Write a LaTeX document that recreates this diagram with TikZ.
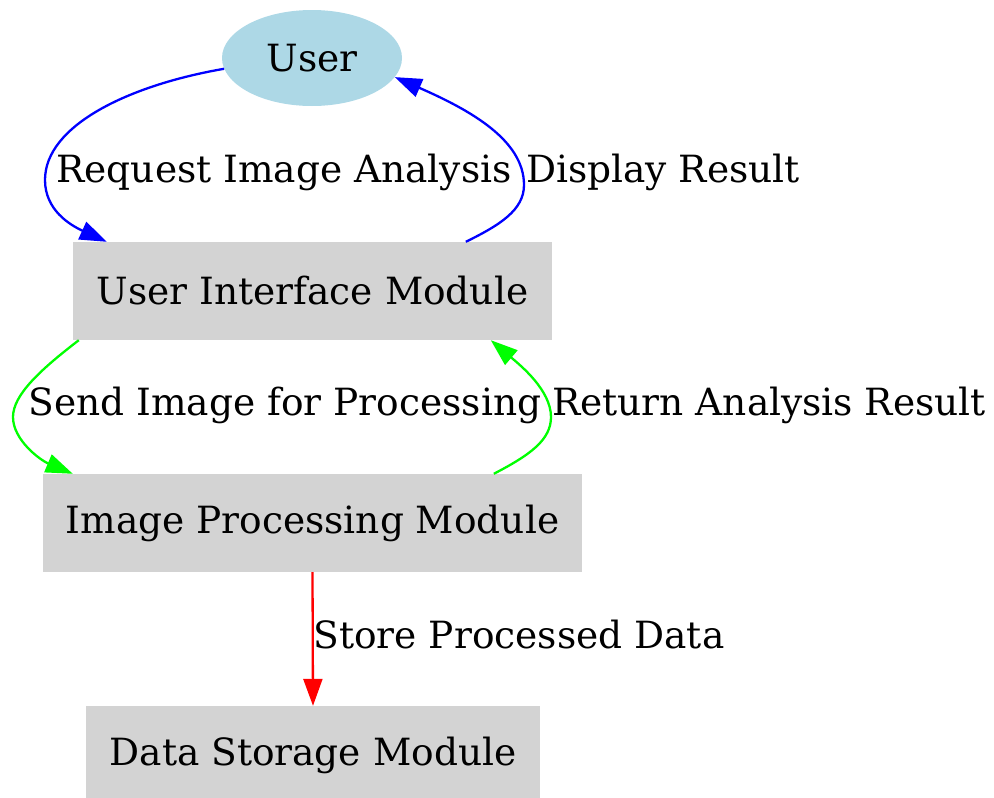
\documentclass[tikz,border=0pt]{standalone}
\usepackage{fontspec}
\setmainfont{DejaVu Serif}
\usetikzlibrary{arrows.meta,calc,shapes.geometric}
\definecolor{ublue}{RGB}{173,216,230}
\definecolor{ugray}{RGB}{211,211,211}
\begin{document}
\begin{tikzpicture}[x=1pt,y=-1pt,
  every node/.style={font=\fontsize{37.5}{44}\selectfont, inner sep=0pt},
  modbox/.style={rectangle, fill=ugray, minimum height=98pt},
  lbl/.style={anchor=center},
  edge/.style={line width=2.3pt, -{Triangle[length=27pt,width=19pt]}}]
\useasboundingbox (0,0) rectangle (994,798);
\node[ellipse, fill=ublue, minimum width=180pt, minimum height=96pt] (user) at (312,58) {User};
\node[modbox, minimum width=479pt] (ui) at (312.5,291) {User Interface Module};
\node[modbox, minimum width=539pt] (ipm) at (312.5,523) {Image Processing Module};
\node[modbox, minimum width=454pt] (dsm) at (313,755) {Data Storage Module};
\node[lbl] (l1) at (284,172) {Request Image Analysis};
\node[lbl] (l2) at (663,172) {Display Result};
\node[lbl] (l3) at (285,405) {Send Image for Processing};
\node[lbl] (l4) at (769,405) {Return Analysis Result};
\node[lbl] (l5) at (519,635) {Store Processed Data};
\draw[edge, blue] (user.187) .. controls (130,85) and (45,125) .. (45,180)
  .. controls (45,210) and (70,225) .. ($(ui.north west)+(34,0)$);
\draw[edge, blue] ($(ui.north west)+(393,0)$) .. controls (500,225) and (524,210) .. (524,185)
  .. controls (524,140) and (470,110) .. (user.-13);
\draw[edge, green] ($(ui.south west)+(6,0)$) .. controls (40,370) and (13,395) .. (13,417)
  .. controls (13,440) and (40,460) .. ($(ipm.north west)+(30,0)$);
\draw[edge, green] ($(ipm.north west)+(451,0)$) .. controls (530,455) and (551,440) .. (551,417)
  .. controls (551,390) and (520,365) .. ($(ui.south west)+(418,0)$);
\draw[edge, red] (ipm.south) -- (dsm.north);
\end{tikzpicture}
\end{document}
